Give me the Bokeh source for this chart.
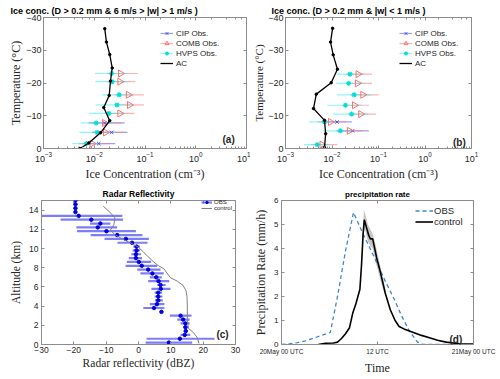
import math
from bokeh.plotting import figure
from bokeh.models import (Range1d, FixedTicker, Legend, LegendItem, Label, LinearAxis, LogAxis)
from bokeh.layouts import column, row
from bokeh.embed import file_html
from bokeh.resources import INLINE

# ---------------- Panel (a): 6 m/s > |w| > 1 m/s ----------------
obs_temp_a = [-22.9, -20.4, -16.4, -13.3, -10.7, -7.8, -4.9, -1.5]
hvps_a = [0.022, 0.0225, 0.031, 0.028, 0.0194, 0.0109, 0.0114, 0.0070]
hvps_a_lo = [0.0103, 0.0105, 0.0143, 0.0106, 0.0078, 0.0054, 0.0051, 0.0037]
hvps_a_hi = [0.045, 0.045, 0.060, 0.055, 0.040, 0.024, 0.026, 0.014]
comb_a = [0.033, 0.032, 0.047, 0.0496, 0.032, 0.0159, 0.0167, 0.0091]
comb_a_lo = [0.018, 0.018, 0.025, 0.026, 0.017, 0.009, 0.009, 0.005]
comb_a_hi = [0.072, 0.065, 0.095, 0.095, 0.062, 0.035, 0.040, 0.020]
cip_temp_a = [-7.8, -4.9, -1.5]
cip_a = [0.016, 0.022, 0.0123]
cip_a_lo = [0.0077, 0.0091, 0.0070]
cip_a_hi = [0.040, 0.045, 0.026]
ac_temp_a = [-36.6, -32.5, -28.7, -24.6, -20.6, -16.2, -12.5, -8.5, -4.8, -1.7, 0.0]
ac_conc_a = [0.0161, 0.0174, 0.0202, 0.0226, 0.0209, 0.0197, 0.0154, 0.0202, 0.0133, 0.0078, 0.0052]

# ---------------- Panel (b): |w| < 1 m/s ----------------
obs_temp_b = [-22.7, -19.9, -16.4, -13.2, -10.5, -8.1, -5.4, -1.2]
hvps_b = [0.0244, 0.0228, 0.030, 0.0195, 0.0264, 0.0069, 0.0151, 0.0048]
hvps_b_lo = [0.0124, 0.0124, 0.013, 0.0079, 0.0106, 0.0032, 0.0065, 0.0025]
hvps_b_hi = [0.050, 0.050, 0.070, 0.045, 0.060, 0.012, 0.030, 0.009]
comb_b = [0.0364, 0.0352, 0.046, 0.0305, 0.0414, 0.0093, 0.0236, 0.0061]
comb_b_lo = [0.020, 0.020, 0.025, 0.016, 0.022, 0.005, 0.012, 0.0035]
comb_b_hi = [0.0725, 0.0725, 0.100, 0.062, 0.088, 0.020, 0.045, 0.013]
cip_temp_b = [-8.1, -5.4]
cip_b = [0.0128, 0.0277]
cip_b_lo = [0.006, 0.013]
cip_b_hi = [0.0268, 0.062]
ac_temp_b = [-36.7, -32.5, -28.6, -24.2, -20.1, -16.6, -12.2, -8.6, -4.5, -0.3]
ac_conc_b = [0.0103, 0.0093, 0.0106, 0.0131, 0.0096, 0.0046, 0.0040, 0.0069, 0.0073, 0.0069]

# ---------------- Panel (c): radar reflectivity ----------------
obs_alt = [15.0, 14.6, 14.2, 13.8, 13.4, 13.0, 12.6, 12.2, 11.8, 11.4, 11.0, 10.6, 10.2,
           9.8, 9.4, 9.0, 8.6, 8.2, 7.8, 7.4, 7.0, 6.6, 6.2, 5.8, 5.4, 5.0, 4.6, 4.2,
           3.8, 3.4, 3.0, 2.6, 2.2, 1.8, 1.4, 1.0, 0.6, 0.2]
obs_dbz = [-19.5, -19.5, -19.5, -19.5, -18.5, -14.6, -11.8, -12.6, -9.9, -6.6, -3.9, -2.0, -0.6,
           -0.6, -0.8, -0.8, 0.1, 1.0, 3.0, 4.3, 5.5, 6.2, 6.8, 6.9, 6.1, 6.1, 6.1, 5.7,
           4.8, 7.1, 13.0, 13.8, 14.5, 14.5, 14.6, 14.3, 12.8, 9.4]
obs_dbz_lo = [-19.5, -19.5, -19.5, -19.5, -30.0, -24.1, -15.0, -19.2, -19.0, -14.8, -10.5, -6.5, -1.6,
              -1.8, -2.2, -3.0, -3.6, -4.0, -0.4, 0.6, 3.5, 3.0, 5.8, 4.0, 5.0, 5.0, 5.1, 3.5,
              1.5, 7.1, 9.7, 12.0, 13.0, 14.0, 14.2, 13.0, 2.5, 2.2]
obs_dbz_hi = [-19.5, -19.5, -19.5, -19.5, -5.0, -4.8, -8.7, -6.6, -0.8, 1.2, 3.2, 2.8, 0.4,
              0.5, 0.8, 1.1, 3.9, 5.8, 6.8, 7.8, 7.2, 9.5, 8.4, 9.9, 7.3, 7.4, 7.5, 8.0,
              8.0, 7.1, 16.4, 15.8, 15.8, 15.4, 15.2, 16.0, 23.5, 16.6]
ctrl_dbz = [-10.9, -8.9, -7.3, -7.6, -8.7, -7.1, -4.5, -1.9, 0.1, 1.6, 2.8, 4.7, 6.2, 7.8,
            9.9, 12.0, 13.8, 14.7, 15.0, 15.1, 15.1, 15.4, 17.1, 18.2, 18.7]
ctrl_alt = [14.4, 13.8, 13.2, 12.5, 11.9, 11.4, 10.9, 10.5, 10.1, 9.6, 9.2, 8.6, 8.2, 7.9,
            6.95, 6.6, 6.15, 5.6, 5.0, 4.0, 2.7, 1.7, 1.2, 0.7, 0.1]

# ---------------- Panel (d): precipitation rate ----------------
obs_hour = [0, 1, 2, 3, 4, 5, 6.1, 7, 8, 9, 10, 11, 12, 13, 14, 15, 16, 17, 17.7, 18, 24]
obs_rate = [0.0, 0.03, 0.08, 0.15, 0.26, 0.38, 0.5, 2.0, 3.9, 5.5, 4.75, 4.05, 3.35, 2.62,
            1.95, 1.2, 0.55, 0.1, 0.0, 0.0, 0.0]
ctl_hour = [4.6, 5.5, 6.5, 7.0, 7.5, 8.0, 8.5, 8.9, 9.3, 9.8, 10.0, 10.2, 10.35, 10.6, 10.9,
            11.1, 11.4, 11.9, 12.3, 13.0, 13.6, 14.2, 14.7, 15.3, 16.5, 17.5, 18.6, 19.5,
            20.6, 22.2, 24.0]
ctl_rate = [0.0, 0.05, 0.06, 0.1, 0.25, 0.45, 0.7, 1.3, 1.7, 2.3, 3.3, 4.6, 5.2, 4.9, 4.55,
            4.4, 4.4, 3.6, 3.1, 2.1, 1.45, 1.0, 0.75, 0.65, 0.5, 0.38, 0.27, 0.18, 0.1,
            0.03, 0.02]
band_hour = [10.1, 10.3, 10.5, 10.8, 11.1, 11.4, 11.8, 12.2, 12.6, 13.0]
band_lo = [3.4, 4.8, 4.7, 4.3, 4.1, 4.0, 3.4, 2.9, 2.4, 2.0]
band_hi = [4.4, 5.6, 5.4, 5.0, 4.8, 4.6, 4.1, 3.5, 2.9, 2.3]
time_ticks = [0, 12, 24]
time_labels = ["20May 00 UTC", "12 UTC", "21May 00 UTC"]

SANS = "Liberation Sans"
SERIF = "Liberation Serif"
AXC = "#8c8c8c"
TXT = "#262626"


def style(p, xlabel, ylabel, tick_size="9px", label_size="12px", minor=False,
          ylab_standoff=2, xlab_standoff=2):
    p.outline_line_color = AXC
    p.xgrid.visible = False
    p.ygrid.visible = False
    p.background_fill_color = "white"
    p.border_fill_color = "white"
    for ax in (p.xaxis[0], p.yaxis[0]):
        ax.axis_line_color = AXC
        ax.major_tick_line_color = AXC
        ax.minor_tick_line_color = AXC if minor else None
        ax.major_tick_in = 3
        ax.major_tick_out = 0
        ax.minor_tick_in = 2
        ax.minor_tick_out = 0
        ax.major_label_text_font = SANS
        ax.major_label_text_font_size = tick_size
        ax.major_label_text_color = TXT
        ax.axis_label_text_font = SERIF
        ax.axis_label_text_font_style = "normal"
        ax.axis_label_text_font_size = label_size
        ax.axis_label_text_color = TXT
        ax.major_label_standoff = 3
    p.yaxis[0].minor_tick_line_color = None
    p.xaxis[0].axis_label = xlabel
    p.yaxis[0].axis_label = ylabel
    p.yaxis[0].axis_label_standoff = ylab_standoff
    p.xaxis[0].axis_label_standoff = xlab_standoff


def box_ticks(p, xticker, yticker, log_x=False):
    # tick marks on the top and right edges of the box (no labels)
    top = LogAxis() if log_x else LinearAxis()
    right = LinearAxis()
    for ax, tk in ((top, xticker), (right, yticker)):
        if tk is not None:
            ax.ticker = tk
        ax.axis_line_color = None
        ax.major_tick_line_color = AXC
        ax.minor_tick_line_color = AXC if (log_x and ax is top) else None
        ax.major_tick_in = 3
        ax.major_tick_out = 0
        ax.minor_tick_in = 2
        ax.minor_tick_out = 0
        ax.major_label_text_font_size = "0px"
        ax.major_label_text_alpha = 0
        ax.major_label_standoff = 0
    p.add_layout(top, "above")
    p.add_layout(right, "right")


def set_title(p, text, size, align, offset):
    p.title.text = text
    p.title.text_font = SANS
    p.title.text_font_style = "bold"
    p.title.text_font_size = size
    p.title.text_color = "black"
    p.title.align = align
    p.title.offset = offset
    p.title.standoff = 0
    p.title.vertical_align = "top"


def ice_panel(width, height, borders, obs_t, hv, hv_lo, hv_hi, cb, cb_lo, cb_hi,
              cip_t, cp, cp_lo, cp_hi, ac_t, ac_c, legend_loc, ylab_size="12px"):
    bl, br, bt, bb = borders
    p = figure(width=width, height=height, x_axis_type="log",
               x_range=Range1d(1e-3, 1e1), y_range=Range1d(0, -40),
               output_backend="svg", toolbar_location=None,
               min_border_left=bl, min_border_right=br,
               min_border_top=bt, min_border_bottom=bb)
    style(p, "Ice Concentration (cm\u207b\u00b3)", "Temperature (\u00b0C)", minor=True,
          label_size="12px", ylab_standoff=0)
    p.yaxis[0].axis_label_text_font_size = ylab_size
    p.yaxis[0].ticker = FixedTicker(ticks=[0, -10, -20, -30, -40])
    p.yaxis[0].major_label_standoff = 2
    box_ticks(p, None, FixedTicker(ticks=[0, -10, -20, -30, -40]), log_x=True)
    # error bars
    s_cip = p.segment(x0=cp_lo, y0=cip_t, x1=cp_hi, y1=cip_t, line_color="#4d4dff",
                      line_alpha=0.55, line_width=1.2)
    s_comb = p.segment(x0=cb_lo, y0=obs_t, x1=cb_hi, y1=obs_t, line_color="#ff7f7f",
                       line_alpha=0.6, line_width=1.2)
    s_hvps = p.segment(x0=hv_lo, y0=obs_t, x1=hv_hi, y1=obs_t, line_color="#33f0f0",
                       line_alpha=0.55, line_width=1.2)
    m_cip = p.scatter(x=cp, y=cip_t, marker="x", size=5, line_color="#3333ff",
                      line_alpha=0.8, line_width=1)
    m_comb = p.scatter(x=cb, y=obs_t, marker="triangle", angle=-math.pi / 2, size=7,
                       fill_color=None, line_color="#ff6f6f", line_width=1)
    m_hvps = p.scatter(x=hv, y=obs_t, marker="asterisk", size=5, line_color="#00dede",
                       line_width=1.2)
    l_ac = p.line(x=ac_c, y=ac_t, line_color="black", line_width=1.3)
    p.scatter(x=ac_c, y=ac_t, marker="circle", size=2.5, color="black")
    leg = Legend(items=[LegendItem(label="CIP Obs.", renderers=[s_cip, m_cip]),
                        LegendItem(label="COMB Obs.", renderers=[s_comb, m_comb]),
                        LegendItem(label="HVPS Obs.", renderers=[s_hvps, m_hvps]),
                        LegendItem(label="AC", renderers=[l_ac])],
                 location=legend_loc, border_line_color=None, background_fill_alpha=0,
                 label_text_font=SANS, label_text_font_size="8px", label_text_color=TXT,
                 glyph_width=13, glyph_height=10, label_height=10, spacing=0,
                 padding=0, margin=0, label_standoff=3)
    p.add_layout(leg)
    return p


# (a)  canvas x 0..250, y 0..188
pa = ice_panel(250, 188, (43, 4, 17, 39), obs_temp_a, hvps_a, hvps_a_lo, hvps_a_hi,
               comb_a, comb_a_lo, comb_a_hi, cip_temp_a, cip_a, cip_a_lo, cip_a_hi,
               ac_temp_a, ac_conc_a, (117, 80))
set_title(pa, "Ice conc. (D > 0.2 mm & 6 m/s > |w|  > 1 m/s )", "9px", "left", -33)
pa.add_layout(Label(x=10 ** 0.527, y=-2.7, text="(a)", text_font=SANS, text_font_style="bold",
                    text_font_size="10px", text_color=TXT, text_baseline="middle"))

# (b)  canvas x 250..500, y 0..188
pb = ice_panel(250, 188, (29, 29, 16, 40), obs_temp_b, hvps_b, hvps_b_lo, hvps_b_hi,
               comb_b, comb_b_lo, comb_b_hi, cip_temp_b, cip_b, cip_b_lo, cip_b_hi,
               ac_temp_b, ac_conc_b, (114, 80), ylab_size="11px")
set_title(pb, "Ice conc. (D > 0.2 mm & |w|  < 1 m/s )", "9px", "left", -14)
pb.add_layout(Label(x=10 ** 0.603, y=-1.9, text="(b)", text_font=SANS, text_font_style="bold",
                    text_font_size="10px", text_color=TXT, text_baseline="middle"))

# (c)  canvas x 0..250, y 188..379
pc = figure(width=250, height=191, x_range=Range1d(-30, 30), y_range=Range1d(0, 15),
            output_backend="svg", toolbar_location=None,
            min_border_left=41, min_border_right=15, min_border_top=10, min_border_bottom=28)
style(pc, "Radar reflectivity (dBZ)", "Altitude (km)", tick_size="8.5px", label_size="11.5px",
      ylab_standoff=4, xlab_standoff=1)
set_title(pc, "Radar Reflectivity", "8.5px", "center", -8)
pc.xaxis[0].ticker = FixedTicker(ticks=[-30, -20, -10, 0, 10, 20, 30])
pc.yaxis[0].ticker = FixedTicker(ticks=[0, 2, 4, 6, 8, 10, 12, 14])
pc.xaxis[0].major_label_standoff = 2
box_ticks(pc, FixedTicker(ticks=[-30, -20, -10, 0, 10, 20, 30]),
          FixedTicker(ticks=[0, 2, 4, 6, 8, 10, 12, 14]))
c_bar = pc.segment(x0=obs_dbz_lo, y0=obs_alt, x1=obs_dbz_hi, y1=obs_alt,
                   line_color="#5252f5", line_alpha=0.75, line_width=2.2)
c_pt = pc.scatter(x=obs_dbz, y=obs_alt, marker="circle", size=3.5, color="#0000e0")
c_ctl = pc.line(x=ctrl_dbz, y=ctrl_alt, line_color="#808080", line_width=1)
leg_c = Legend(items=[LegendItem(label="OBS", renderers=[c_bar, c_pt]),
                      LegendItem(label="control", renderers=[c_ctl])],
               location=(160, 133), border_line_color=None, background_fill_alpha=0,
               label_text_font=SANS, label_text_font_size="6px", label_text_color=TXT,
               glyph_width=11, glyph_height=6, label_height=6, spacing=0,
               padding=0, margin=0, label_standoff=2)
pc.add_layout(leg_c)
pc.add_layout(Label(x=24.1, y=1.0, text="(c)", text_font=SANS, text_font_style="bold",
                    text_font_size="10px", text_color=TXT, text_baseline="middle"))

# (d)  canvas x 250..500, y 188..379
pd_ = figure(width=250, height=191, x_range=Range1d(0, 24), y_range=Range1d(0, 6),
             output_backend="svg", toolbar_location=None,
             min_border_left=31, min_border_right=27, min_border_top=9, min_border_bottom=35)
style(pd_, "Time", "Precipitation Rate (mm/h)", tick_size="8px", label_size="12px",
      ylab_standoff=3, xlab_standoff=3)
set_title(pd_, "precipitation rate", "8px", "center", -7)
pd_.xaxis[0].ticker = FixedTicker(ticks=time_ticks)
pd_.xaxis[0].major_label_overrides = {t: s for t, s in zip(time_ticks, time_labels)}
pd_.xaxis[0].major_label_text_font_size = "6.5px"
pd_.yaxis[0].ticker = FixedTicker(ticks=[0, 1, 2, 3, 4, 5, 6])
box_ticks(pd_, FixedTicker(ticks=time_ticks), FixedTicker(ticks=[0, 1, 2, 3, 4, 5, 6]))
pd_.varea(x=band_hour, y1=band_lo, y2=band_hi, fill_color="#b8b8b8", fill_alpha=0.8)
d_obs = pd_.line(x=obs_hour, y=obs_rate, line_color="#3f86d0", line_width=1.3,
                 line_dash="4 3")
d_ctl = pd_.line(x=ctl_hour, y=ctl_rate, line_color="black", line_width=1.6)
leg_d = Legend(items=[LegendItem(label="OBS", renderers=[d_obs]),
                      LegendItem(label="control", renderers=[d_ctl])],
               location=(134, 117), border_line_color=None, background_fill_alpha=0,
               label_text_font=SANS, label_text_font_size="9.5px", label_text_color=TXT,
               glyph_width=18, glyph_height=11, label_height=11, spacing=0,
               padding=0, margin=0, label_standoff=1)
pd_.add_layout(leg_d)
pd_.add_layout(Label(x=21.0, y=0.2, text="(d)", text_font=SANS, text_font_style="bold",
                     text_font_size="10px", text_color=TXT, text_baseline="middle"))

layout = column(row(pa, pb), row(pc, pd_))
open("out.html", "w").write(file_html(layout, INLINE))
